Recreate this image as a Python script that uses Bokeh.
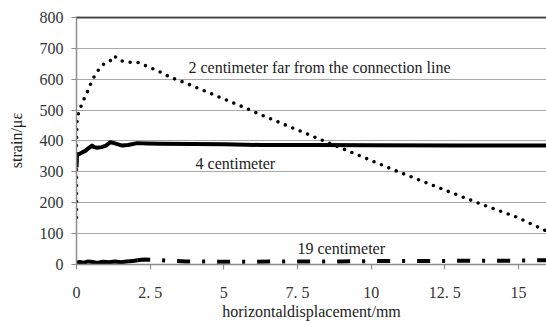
from bokeh.plotting import figure
from bokeh.models import Range1d, Label, Span, FixedTicker
from bokeh.embed import file_html
from bokeh.resources import INLINE

# 2 centimeter far from the connection line (dotted)
x_2cm = [0, 0, 0.02, 0.14, 0.23, 0.34, 0.48, 0.62, 0.81, 1.0, 1.15, 1.27, 1.49, 1.78, 2.06,
         2.34, 2.74, 3.19, 3.64, 4.32, 5.0, 5.68, 6.13, 8.5, 9.19, 10.77, 12.69, 13.71, 14.95, 15.91]
y_2cm = [152, 401, 477, 509, 531, 552, 585, 612, 639, 655, 660, 676, 660, 655, 655,
         644, 628, 606, 590, 563, 536, 509, 490, 396, 369, 306, 234, 196, 153, 110]

# 4 centimeter (solid)
x_4cm = [0, 0.02, 0.1, 0.19, 0.3, 0.4, 0.53, 0.6, 0.7, 0.85, 1.0, 1.15, 1.3, 1.55, 1.75,
         2.06, 2.4, 2.85, 5, 6.24, 8, 10, 13, 16]
y_4cm = [314, 355, 358, 363, 368, 376, 385, 380, 378, 380, 385, 396, 392, 385, 387,
         393, 392, 391, 389, 387, 387, 386, 385, 385]

# 19 centimeter (dash-dot)
x_19cm = [0, 0.1, 0.25, 0.4, 0.55, 0.7, 0.9, 1.1, 1.3, 1.5, 1.7, 1.9, 2.06,
          2.3, 3.0, 3.7, 4.7, 6, 7.5, 9, 10, 11.5, 13, 14.5, 16]
y_19cm = [6, 8, 6, 10, 8, 5, 9, 7, 10, 7, 10, 11, 14,
          16, 13, 10, 9, 9, 10, 10, 11, 11, 12, 12, 14]

x_ticks = [0, 2.5, 5, 7.5, 10, 12.5, 15]
x_tick_labels = ["0", "2. 5", "5", "7. 5", "10", "12. 5", "15"]
y_ticks = [0, 100, 200, 300, 400, 500, 600, 700, 800]

FONT = "'Liberation Serif', 'Times New Roman', serif"

p = figure(width=546, height=324, output_backend="svg", toolbar_location=None,
           x_range=Range1d(0, 15.95), y_range=Range1d(0, 803),
           min_border_left=76, min_border_right=0, min_border_top=16, min_border_bottom=60)
p.outline_line_color = None
p.background_fill_color = "white"
p.border_fill_color = "white"

p.xgrid.visible = False
p.ygrid.ticker = FixedTicker(ticks=y_ticks)
p.ygrid.grid_line_color = "#a8a8a8"
p.ygrid.grid_line_width = 1.2

p.add_layout(Span(location=800, dimension="width", line_color="#404040", line_width=2.2))

# series
n_solid = 13
p.line(x_19cm[:n_solid], y_19cm[:n_solid], line_color="black", line_width=4)
p.line(x_19cm[n_solid - 1:], y_19cm[n_solid - 1:], line_color="black", line_width=4,
       line_dash="13 12 3 12")
p.line(x_4cm, y_4cm, line_color="black", line_width=4, line_join="round")
p.line(x_2cm, y_2cm, line_color="black", line_width=3.6, line_dash="0 8",
       line_cap="round")

for ax in (p.xaxis[0], p.yaxis[0]):
    ax.axis_line_color = "#8c8c8c"
    ax.axis_line_width = 1.5
    ax.major_tick_line_color = "#8c8c8c"
    ax.major_tick_line_width = 1.2
    ax.major_tick_in = 0
    ax.major_tick_out = 5
    ax.minor_tick_line_color = None
    ax.major_label_text_font = FONT
    ax.major_label_text_font_size = "16px"
    ax.major_label_text_color = "#333333"
    ax.axis_label_text_font = FONT
    ax.axis_label_text_font_size = "16px"
    ax.axis_label_text_font_style = "normal"
    ax.axis_label_text_color = "#222222"

p.xaxis.ticker = FixedTicker(ticks=x_ticks)
p.xaxis.major_label_overrides = {t: s for t, s in zip(x_ticks, x_tick_labels)}
p.xaxis.major_label_standoff = 14
p.xaxis.axis_label = "horizontaldisplacement/mm"
p.xaxis.axis_label_standoff = -1

p.yaxis.ticker = FixedTicker(ticks=y_ticks)
p.yaxis.major_label_standoff = 8
p.yaxis.axis_label = "strain/με"
p.yaxis.axis_label_standoff = 12

for txt, lx, ly in [("2 centimeter far from the connection line", 3.8, 637),
                    ("4 centimeter", 4.04, 327),
                    ("19 centimeter", 7.5, 52)]:
    p.add_layout(Label(x=lx, y=ly, text=txt, text_font=FONT, text_font_size="16px",
                       text_color="#222222", text_baseline="middle"))

open("out.html", "w").write(file_html(p, INLINE))
